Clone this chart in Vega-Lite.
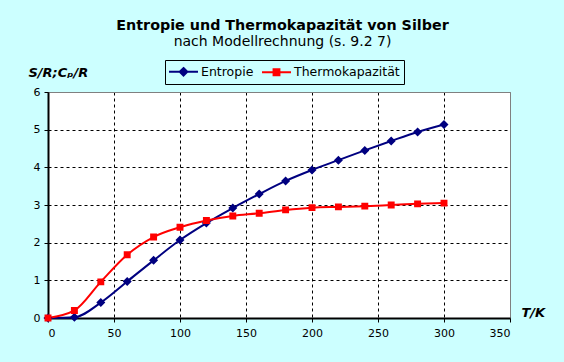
{
  "$schema": "https://vega.github.io/schema/vega-lite/v6.json",
  "width": 462,
  "height": 226,
  "autosize": {"type": "none"},
  "padding": {"left": 48, "top": 92, "right": 54, "bottom": 44},
  "background": "#CCFFFF",
  "title": {
    "text": "Entropie und Thermokapazität von Silber",
    "subtitle": "nach Modellrechnung (s. 9.2 7)",
    "anchor": "middle",
    "frame": "group",
    "dx": 3.5,
    "offset": 10,
    "font": "DejaVu Sans",
    "fontSize": 14.3,
    "fontWeight": "bold",
    "color": "black",
    "subtitleFont": "DejaVu Sans",
    "subtitleFontSize": 14,
    "subtitleColor": "black",
    "subtitlePadding": 2
  },
  "config": {
    "view": {"stroke": "#808080", "strokeWidth": 1, "fill": "white"},
    "axis": {
      "labelFont": "DejaVu Sans",
      "labelFontSize": 11,
      "labelColor": "black",
      "domainColor": "black",
      "domainWidth": 2,
      "tickColor": "black",
      "tickSize": 4,
      "tickWidth": 1,
      "grid": true,
      "gridColor": "black",
      "gridWidth": 1,
      "gridDash": [3, 3],
      "gridOpacity": 1,
      "titleFont": "DejaVu Sans",
      "titleFontSize": 13,
      "titleFontWeight": "bold",
      "titleFontStyle": "italic",
      "titleColor": "black"
    }
  },
  "data": {
    "values": [
      {"T": 0, "value": 0, "series": "Entropie"},
      {"T": 20, "value": 0.02, "series": "Entropie"},
      {"T": 40, "value": 0.41, "series": "Entropie"},
      {"T": 60, "value": 0.97, "series": "Entropie"},
      {"T": 80, "value": 1.53, "series": "Entropie"},
      {"T": 100, "value": 2.07, "series": "Entropie"},
      {"T": 120, "value": 2.52, "series": "Entropie"},
      {"T": 140, "value": 2.92, "series": "Entropie"},
      {"T": 160, "value": 3.29, "series": "Entropie"},
      {"T": 180, "value": 3.64, "series": "Entropie"},
      {"T": 200, "value": 3.93, "series": "Entropie"},
      {"T": 220, "value": 4.19, "series": "Entropie"},
      {"T": 240, "value": 4.45, "series": "Entropie"},
      {"T": 260, "value": 4.7, "series": "Entropie"},
      {"T": 280, "value": 4.94, "series": "Entropie"},
      {"T": 300, "value": 5.14, "series": "Entropie"},
      {"T": 0, "value": 0, "series": "Thermokapazität"},
      {"T": 20, "value": 0.2, "series": "Thermokapazität"},
      {"T": 40, "value": 0.96, "series": "Thermokapazität"},
      {"T": 60, "value": 1.68, "series": "Thermokapazität"},
      {"T": 80, "value": 2.15, "series": "Thermokapazität"},
      {"T": 100, "value": 2.41, "series": "Thermokapazität"},
      {"T": 120, "value": 2.59, "series": "Thermokapazität"},
      {"T": 140, "value": 2.71, "series": "Thermokapazität"},
      {"T": 160, "value": 2.78, "series": "Thermokapazität"},
      {"T": 180, "value": 2.87, "series": "Thermokapazität"},
      {"T": 200, "value": 2.93, "series": "Thermokapazität"},
      {"T": 220, "value": 2.95, "series": "Thermokapazität"},
      {"T": 240, "value": 2.97, "series": "Thermokapazität"},
      {"T": 260, "value": 3.0, "series": "Thermokapazität"},
      {"T": 280, "value": 3.03, "series": "Thermokapazität"},
      {"T": 300, "value": 3.05, "series": "Thermokapazität"}
    ]
  },
  "encoding": {
    "x": {
      "field": "T",
      "type": "quantitative",
      "scale": {"domain": [0, 350], "nice": false, "zero": false},
      "axis": {
        "values": [0, 50, 100, 150, 200, 250, 300, 350],
        "labelPadding": 5,
        "title": "T/K",
        "titleAnchor": "start",
        "titleAlign": "left",
        "titleBaseline": "alphabetic",
        "titleX": 473,
        "titleY": -2,
        "gridColor": {"condition": {"test": "datum.value == 350", "value": "#808080"}, "value": "black"},
        "gridDash": {"condition": {"test": "datum.value == 350", "value": []}, "value": [3, 3]}
      }
    },
    "y": {
      "field": "value",
      "type": "quantitative",
      "scale": {"domain": [0, 6], "nice": false},
      "axis": {
        "values": [0, 1, 2, 3, 4, 5, 6],
        "labelPadding": 4,
        "title": "S/R;Cₚ/R",
        "titleAngle": 0,
        "titleAnchor": "start",
        "titleAlign": "left",
        "titleBaseline": "alphabetic",
        "titleX": -20,
        "titleY": -16,
        "gridColor": {"condition": {"test": "datum.value == 6", "value": "#808080"}, "value": "black"},
        "gridDash": {"condition": {"test": "datum.value == 6", "value": []}, "value": [3, 3]}
      }
    },
    "color": {
      "field": "series",
      "type": "nominal",
      "scale": {"domain": ["Entropie", "Thermokapazität"], "range": ["#000080", "#FF0000"]},
      "legend": {
        "title": null,
        "orient": "none",
        "direction": "horizontal",
        "legendX": 117,
        "legendY": -32,
        "strokeColor": "black",
        "fillColor": "#CCFFFF",
        "padding": 4,
        "labelFont": "DejaVu Sans",
        "labelFontSize": 12.5,
        "labelColor": "black",
        "labelOffset": 10,
        "symbolOffset": 7,
        "columnPadding": 4,
        "symbolSize": 169,
        "symbolStrokeWidth": 2,
        "symbolOpacity": 1
      }
    }
  },
  "layer": [
    {
      "mark": {"type": "line", "strokeWidth": 2, "interpolate": "monotone"}
    },
    {
      "mark": {"type": "point", "filled": true, "opacity": 1, "size": 237},
      "encoding": {
        "shape": {
          "field": "series",
          "type": "nominal",
          "scale": {"domain": ["Entropie", "Thermokapazität"], "range": ["M-2.23,0H2.23M0,-0.585L0.585,0L0,0.585L-0.585,0Z", "M-2.23,0H2.23M-0.45,-0.45H0.45V0.45H-0.45Z"]}
        }
      }
    }
  ]
}
